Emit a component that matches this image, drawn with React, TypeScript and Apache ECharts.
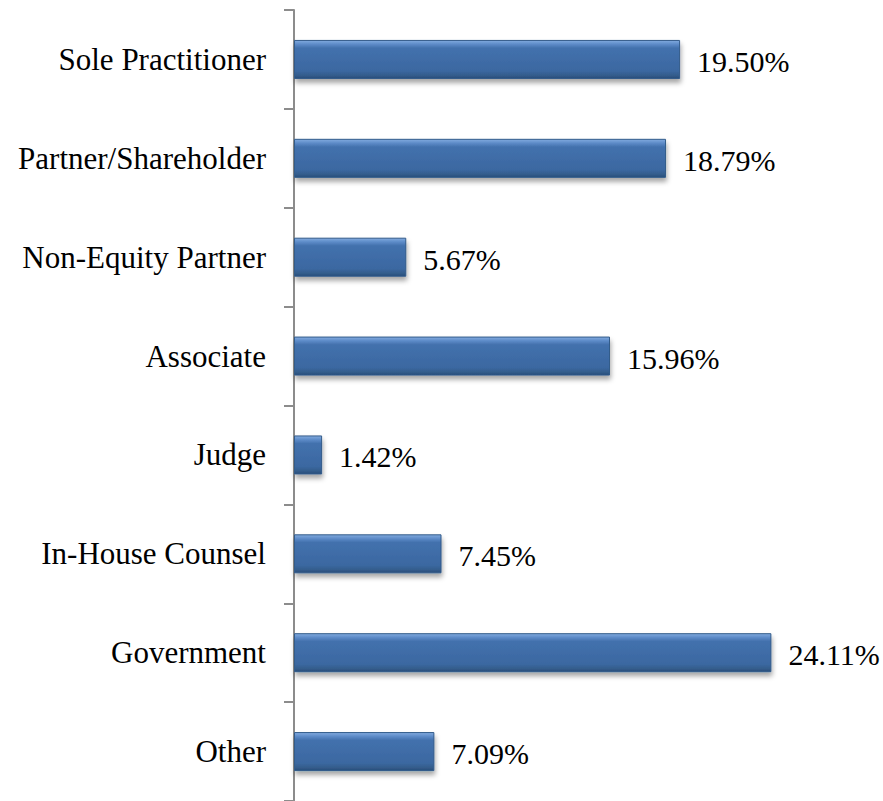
import React, { useEffect, useRef } from "react";
import * as echarts from "echarts";

const categories = [
  "Sole Practitioner",
  "Partner/Shareholder",
  "Non-Equity Partner",
  "Associate",
  "Judge",
  "In-House Counsel",
  "Government",
  "Other",
];
const values = [19.5, 18.79, 5.67, 15.96, 1.42, 7.45, 24.11, 7.09];

const SERIF = "Liberation Serif";

export default function App() {
  const ref = useRef<HTMLDivElement>(null);
  useEffect(() => {
    if (!ref.current) return;
    const chart = echarts.init(ref.current, null, { renderer: "svg" });
    chart.setOption({
      animation: false,
      backgroundColor: "#ffffff",
      textStyle: { fontFamily: SERIF },
      grid: { left: 294, right: 94, top: 10, bottom: -1, containLabel: false },
      xAxis: {
        type: "value",
        min: 0,
        max: 25,
        show: false,
      },
      yAxis: {
        type: "category",
        data: categories,
        inverse: true,
        axisLine: { show: true, lineStyle: { color: "#8c8c8c", width: 2 } },
        axisTick: { show: true, length: 10, lineStyle: { color: "#8c8c8c", width: 2 } },
        axisLabel: {
          margin: 28,
          color: "#000000",
          fontFamily: SERIF,
          fontSize: 31,
        },
        splitLine: { show: false },
      },
      series: [
        {
          type: "bar",
          data: values,
          barWidth: 39,
          itemStyle: {
            color: new echarts.graphic.LinearGradient(0, 0, 0, 1, [
              { offset: 0, color: "#82abdf" },
              { offset: 0.1, color: "#5d8bc8" },
              { offset: 0.2, color: "#4371ad" },
              { offset: 0.8, color: "#3b68a1" },
              { offset: 0.92, color: "#345d8c" },
              { offset: 1, color: "#284c7a" },
            ]),
            borderColor: "#325b8a",
            borderWidth: 1,
            shadowColor: "rgba(0,0,0,0.35)",
            shadowBlur: 5,
            shadowOffsetY: 4,
            shadowOffsetX: 1,
          },
          label: {
            show: true,
            position: "right",
            distance: 17,
            color: "#000000",
            fontFamily: SERIF,
            fontSize: 30,
            offset: [0, 2],
            formatter: (p: any) => "{v|" + p.value.toFixed(2) + "%}",
            rich: {
              v: {
                fontFamily: SERIF,
                fontSize: 30,
                color: "#000000",
              },
            },
          },
        },
      ],
    });
    return () => chart.dispose();
  }, []);
  return (
    <div
      ref={ref}
      style={{ position: "fixed", left: 0, top: 0, width: 883, height: 801 }}
    />
  );
}
